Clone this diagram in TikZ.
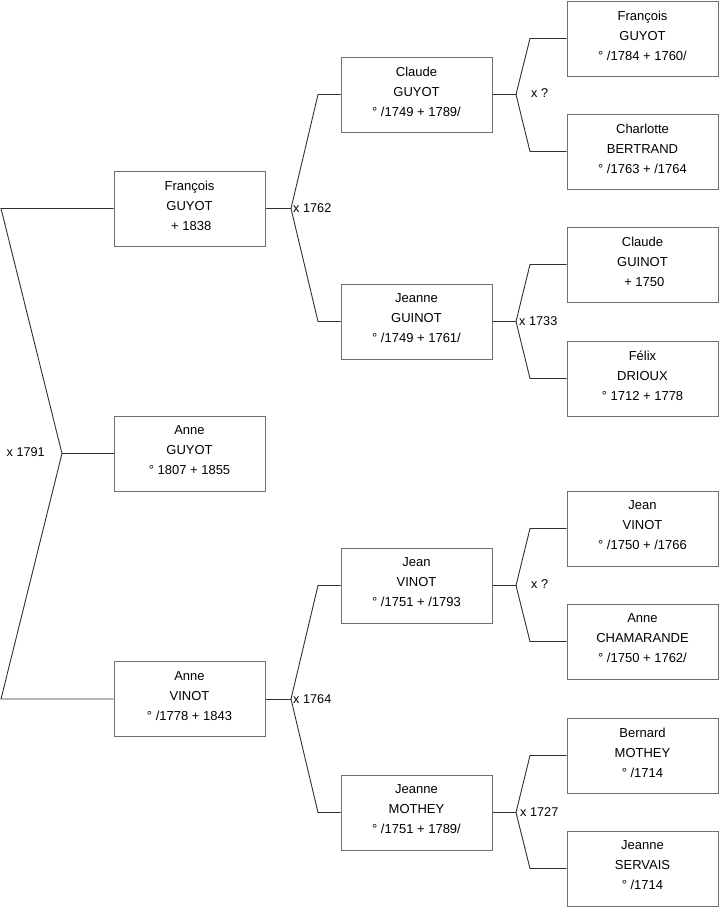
\documentclass[tikz,border=0pt]{standalone}
\usepackage{fontspec}
\setmainfont{Liberation Sans}
\definecolor{boxgray}{HTML}{707070}
\definecolor{linecol}{HTML}{303030}
\begin{document}
\begin{tikzpicture}[x=1pt,y=-1pt,
  person/.style={draw=boxgray, line width=1pt, minimum width=151pt, minimum height=75pt,
    inner sep=0pt, align=center, text depth=6pt, font=\fontsize{13}{20}\selectfont},
  link/.style={draw=linecol, line width=0.9pt},
  marr/.style={font=\fontsize{12.7}{14}\selectfont, inner sep=0pt, text=black}]
\useasboundingbox (0,0) rectangle (719,908);

% column 1
\node[person] (f1) at (189.5,208.5) {François\\GUYOT\\ \ + 1838};
\node[person] (a)  at (189.5,453.5) {Anne\\GUYOT\\° 1807 + 1855};
\node[person] (m1) at (189.5,699) {Anne\\VINOT\\° /1778 + 1843};

% column 2
\node[person] (f2) at (416.5,94.5) {Claude\\GUYOT\\° /1749 + 1789/};
\node[person] (m2) at (416.5,321.5) {Jeanne\\GUINOT\\° /1749 + 1761/};
\node[person] (f3) at (416.5,585.5) {Jean\\VINOT\\° /1751 + /1793};
\node[person] (m3) at (416.5,812.5) {Jeanne\\MOTHEY\\° /1751 + 1789/};

% column 3
\node[person] (g1) at (642.5,38.5) {François\\GUYOT\\° /1784 + 1760/};
\node[person] (g2) at (642.5,151.5) {Charlotte\\BERTRAND\\° /1763 + /1764};
\node[person] (g3) at (642.5,264.5) {Claude\\GUINOT\\ \ + 1750};
\node[person] (g4) at (642.5,378.5) {Félix\\DRIOUX\\° 1712 + 1778};
\node[person] (g5) at (642.5,528.5) {Jean\\VINOT\\° /1750 + /1766};
\node[person] (g6) at (642.5,641.5) {Anne\\CHAMARANDE\\° /1750 + 1762/};
\node[person] (g7) at (642.5,755.5) {Bernard\\MOTHEY\\° /1714};
\node[person] (g8) at (642.5,868.5) {Jeanne\\SERVAIS\\° /1714};

% root couple
\coordinate (j0) at (62,453.5);
\coordinate (t0) at (1,208.5);
\coordinate (b0) at (1,699);
\draw[link] (f1.west) -- (t0) -- (j0) -- (b0) -- (m1.west);
\draw[link] (j0) -- (a.west);
\node[marr, anchor=east] (l0) at (45,452.5) {x 1791};

% François GUYOT's parents
\coordinate (j1) at (291,208.5);
\coordinate (t1) at (318,94.5);
\coordinate (b1) at (318,321.5);
\draw[link] (f1.east) -- (j1);
\draw[link] (f2.west) -- (t1) -- (j1) -- (b1) -- (m2.west);
\node[marr, anchor=west] (l1) at (293,208.5) {x 1762};

% Anne VINOT's parents
\coordinate (j2) at (291,699);
\coordinate (t2) at (318,585.5);
\coordinate (b2) at (318,812.5);
\draw[link] (m1.east) -- (j2);
\draw[link] (f3.west) -- (t2) -- (j2) -- (b2) -- (m3.west);
\node[marr, anchor=west] (l2) at (293,699) {x 1764};

% Claude GUYOT's parents
\coordinate (j3) at (516,94.5);
\coordinate (t3) at (530,38.5);
\coordinate (b3) at (530,151.5);
\draw[link] (f2.east) -- (j3);
\draw[link] (g1.west) -- (t3) -- (j3) -- (b3) -- (g2.west);
\node[marr, anchor=west] (l3) at (531,93) {x ?};

% Jeanne GUINOT's parents
\coordinate (j4) at (516,321.5);
\coordinate (t4) at (530,264.5);
\coordinate (b4) at (530,378.5);
\draw[link] (m2.east) -- (j4);
\draw[link] (g3.west) -- (t4) -- (j4) -- (b4) -- (g4.west);
\node[marr, anchor=west] (l4) at (519,321.5) {x 1733};

% Jean VINOT's parents
\coordinate (j5) at (516,585.5);
\coordinate (t5) at (530,528.5);
\coordinate (b5) at (530,641.5);
\draw[link] (f3.east) -- (j5);
\draw[link] (g5.west) -- (t5) -- (j5) -- (b5) -- (g6.west);
\node[marr, anchor=west] (l5) at (531,584) {x ?};

% Jeanne MOTHEY's parents
\coordinate (j6) at (516,812.5);
\coordinate (t6) at (530,755.5);
\coordinate (b6) at (530,868.5);
\draw[link] (m3.east) -- (j6);
\draw[link] (g7.west) -- (t6) -- (j6) -- (b6) -- (g8.west);
\node[marr, anchor=west] (l6) at (520,812.5) {x 1727};
\end{tikzpicture}
\end{document}
